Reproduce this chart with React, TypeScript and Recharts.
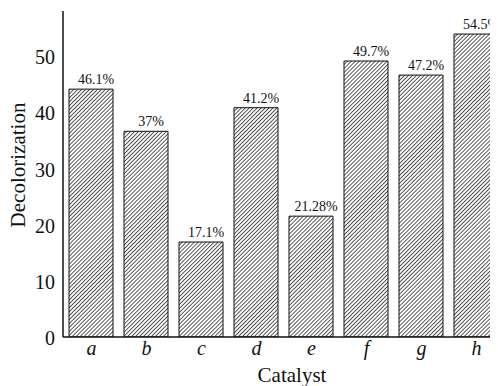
import React from 'react';
import { BarChart, Bar, XAxis, YAxis, LabelList, Label } from 'recharts';

const categories = ['a', 'b', 'c', 'd', 'e', 'f', 'g', 'h'];
const decolorization = [44.1, 36.6, 16.9, 40.8, 21.5, 49.1, 46.6, 53.9];
const valueLabels = ['46.1%', '37%', '17.1%', '41.2%', '21.28%', '49.7%', '47.2%', '54.5%'];
const yTicks = [0, 10, 20, 30, 40, 50];

const data = categories.map((c, i) => ({
  catalyst: c,
  value: decolorization[i],
  label: valueLabels[i],
}));

const SERIF = '"Liberation Serif", "Times New Roman", serif';

const YTick = (props: any) => {
  const { x, y, payload } = props;
  return (
    <text x={Number(x) - 8} y={Number(y) + 1} dy="0.36em" textAnchor="end" fontFamily={SERIF} fontSize={20} fill="#111">
      {payload.value}
    </text>
  );
};

const XTick = (props: any) => {
  const { x, y, payload } = props;
  return (
    <text x={Number(x) + 1} y={Number(y) + 18} textAnchor="middle" fontFamily={SERIF} fontStyle="italic" fontSize={20} fill="#111">
      {payload.value}
    </text>
  );
};

const renderBarLabel = (props: any) => {
  const { x, y, width, value } = props;
  return (
    <text x={Number(x) + Number(width) / 2 + 5} y={Number(y) - 5} textAnchor="middle" fontFamily={SERIF} fontSize={14} fill="#111">
      {value}
    </text>
  );
};

const XLabel = (props: any) => {
  const vb = props.viewBox || { x: 55, y: 329, width: 440, height: 45 };
  return (
    <text x={vb.x + vb.width / 2 + 9} y={vb.y + 45} textAnchor="middle" fontFamily={SERIF} fontSize={21} fill="#111">
      Catalyst
    </text>
  );
};

const YLabel = (props: any) => {
  const vb = props.viewBox || { x: 0, y: 3, width: 55, height: 326 };
  const cx = vb.x + 17;
  const cy = vb.y + vb.height / 2 - 9;
  return (
    <text x={cx} y={cy} textAnchor="middle" transform={`rotate(-90, ${cx}, ${cy})`} fontFamily={SERIF} fontSize={21} fill="#111">
      Decolorization
    </text>
  );
};

export default function App() {
  return (
    <div style={{ width: 490, height: 378, overflow: 'hidden' }}>
      <BarChart
        width={500}
        height={378}
        data={data}
        margin={{ top: 3, right: 5, bottom: 4, left: 0 }}
      >
        <defs>
          <pattern id="hatch" patternUnits="userSpaceOnUse" width={2.8} height={2.8} patternTransform="rotate(45)">
            <rect x={0} y={0} width={2.8} height={2.8} fill="#ffffff" />
            <rect x={0} y={0} width={0.85} height={2.8} fill="#3a3a3a" />
          </pattern>
        </defs>
        <XAxis
          dataKey="catalyst"
          height={45}
          tickLine={false}
          tickSize={0}
          tickMargin={0}
          axisLine={{ stroke: '#111', strokeWidth: 1.5 }}
          tick={<XTick />}
          interval={0}
        >
          <Label content={<XLabel />} />
        </XAxis>
        <YAxis
          width={55}
          domain={[0, 58]}
          ticks={yTicks}
          tickLine={false}
          tickSize={0}
          tickMargin={0}
          axisLine={{ stroke: '#111', strokeWidth: 1.5 }}
          tick={<YTick />}
          allowDataOverflow
        >
          <Label content={<YLabel />} />
        </YAxis>
        <Bar dataKey="value" barSize={44} fill="url(#hatch)" stroke="#111" strokeWidth={1} isAnimationActive={false}>
          <LabelList dataKey="label" content={renderBarLabel} />
        </Bar>
      </BarChart>
    </div>
  );
}
